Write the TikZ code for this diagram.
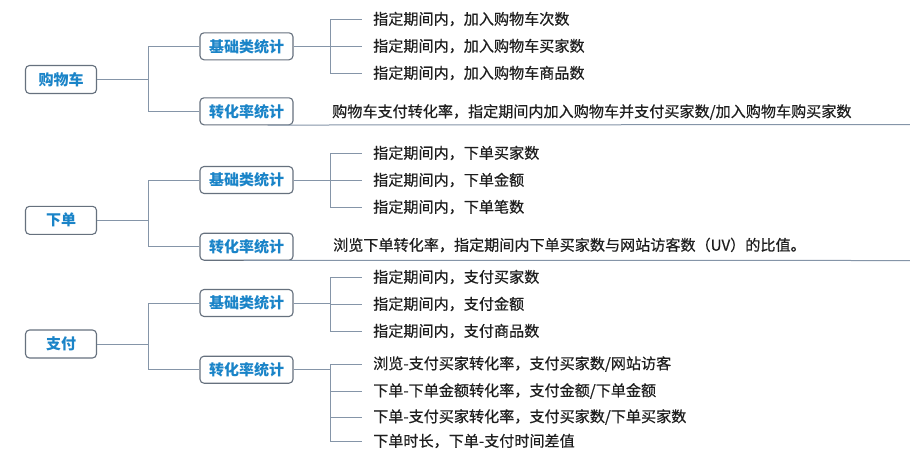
\documentclass[tikz,border=0pt]{standalone}
\usepackage{fontspec}
\setmainfont{Noto Sans CJK SC}
\newfontfamily\leaffont[FakeBold=0.45]{Noto Sans CJK SC}
\definecolor{boxgray}{HTML}{66717E}
\definecolor{topicblue}{HTML}{1A84C8}
\definecolor{linecol}{HTML}{8595A8}
\definecolor{leaftext}{HTML}{1E1E1E}
\begin{document}
\begin{tikzpicture}[x=1pt,y=-1pt,
  rootbox/.style={draw=boxgray, line width=1.1pt, rounded corners=4pt, fill=white,
    minimum width=71pt, minimum height=28pt, inner sep=0pt, text=topicblue,
    font=\fontsize{15}{15}\selectfont\bfseries},
  subbox/.style={rootbox, minimum width=93pt, minimum height=27pt},
  leaf/.style={anchor=west, inner sep=0pt, text=leaftext,
    font=\leaffont\fontsize{15.1}{15}\selectfont},
  conn/.style={draw=linecol, line width=1pt}]
\useasboundingbox[fill=white] (0,0) rectangle (910,450);

% ---------- 购物车 ----------
\node[rootbox] (r1) at (61,79.5) {购物车};
\node[subbox] (b1) at (246.5,46.3) {基础类统计};
\node[subbox] (c1) at (246.5,111.3) {转化率统计};
\draw[conn] (r1.east) -- ++(51,0) |- (b1.west);
\draw[conn] (r1.east) -- ++(51,0) |- (c1.west);
\node[leaf] (l11) at (373,19) {指定期间内，加入购物车次数};
\node[leaf] (l12) at (373,46) {指定期间内，加入购物车买家数};
\node[leaf] (l13) at (373,73) {指定期间内，加入购物车商品数};
\coordinate (j1) at (330,46.3);
\draw[conn] (b1.east) -- (j1);
\draw[conn] (j1) |- ([xshift=-11pt]l11.west);
\draw[conn] (j1) |- ([xshift=-11pt]l12.west);
\draw[conn] (j1) |- ([xshift=-11pt]l13.west);
\node[leaf] (t1) at (332,112) {购物车支付转化率，指定期间内加入购物车并支付买家数/加入购物车购买家数};
\coordinate (e1) at (910,124.5);
\draw[conn] ([xshift=-26pt,yshift=0.3pt]c1.south east) -- (e1);

% ---------- 下单 ----------
\node[rootbox] (r2) at (61,220.3) {下单};
\node[subbox] (b2) at (246.5,180) {基础类统计};
\node[subbox] (c2) at (246.5,246.7) {转化率统计};
\draw[conn] (r2.east) -- ++(51,0) |- (b2.west);
\draw[conn] (r2.east) -- ++(51,0) |- (c2.west);
\node[leaf] (l21) at (373,153) {指定期间内，下单买家数};
\node[leaf] (l22) at (373,180) {指定期间内，下单金额};
\node[leaf] (l23) at (373,207) {指定期间内，下单笔数};
\coordinate (j2) at (330,180);
\draw[conn] (b2.east) -- (j2);
\draw[conn] (j2) |- ([xshift=-11pt]l21.west);
\draw[conn] (j2) |- ([xshift=-11pt]l22.west);
\draw[conn] (j2) |- ([xshift=-11pt]l23.west);
\node[leaf] (t2) at (333,245) {浏览下单转化率，指定期间内下单买家数与网站访客数（UV）的比值。};
\coordinate (e2) at (910,260.5);
\draw[conn] ([xshift=-50pt,yshift=0.3pt]c2.south east) -- (e2);

% ---------- 支付 ----------
\node[rootbox] (r3) at (61,344) {支付};
\node[subbox] (b3) at (246.5,303) {基础类统计};
\node[subbox] (c3) at (246.5,369.7) {转化率统计};
\draw[conn] (r3.east) -- ++(51,0) |- (b3.west);
\draw[conn] (r3.east) -- ++(51,0) |- (c3.west);
\node[leaf] (l31) at (373,277) {指定期间内，支付买家数};
\node[leaf] (l32) at (373,304) {指定期间内，支付金额};
\node[leaf] (l33) at (373,331) {指定期间内，支付商品数};
\coordinate (j3) at (330,303);
\draw[conn] (b3.east) -- (j3);
\draw[conn] (j3) |- ([xshift=-11pt]l31.west);
\draw[conn] (j3) |- ([xshift=-11pt]l32.west);
\draw[conn] (j3) |- ([xshift=-11pt]l33.west);
\node[leaf] (l41) at (373,364) {浏览-支付买家转化率，支付买家数/网站访客};
\node[leaf] (l42) at (373,391) {下单-下单金额转化率，支付金额/下单金额};
\node[leaf] (l43) at (373,417) {下单-支付买家转化率，支付买家数/下单买家数};
\node[leaf] (l44) at (373,441) {下单时长，下单-支付时间差值};
\coordinate (j4) at (330,369.7);
\draw[conn] (c3.east) -- (j4);
\draw[conn] (j4) |- ([xshift=-11pt]l41.west);
\draw[conn] (j4) |- ([xshift=-11pt]l42.west);
\draw[conn] (j4) |- ([xshift=-11pt]l43.west);
\draw[conn] (j4) |- ([xshift=-11pt]l44.west);
\end{tikzpicture}
\end{document}
